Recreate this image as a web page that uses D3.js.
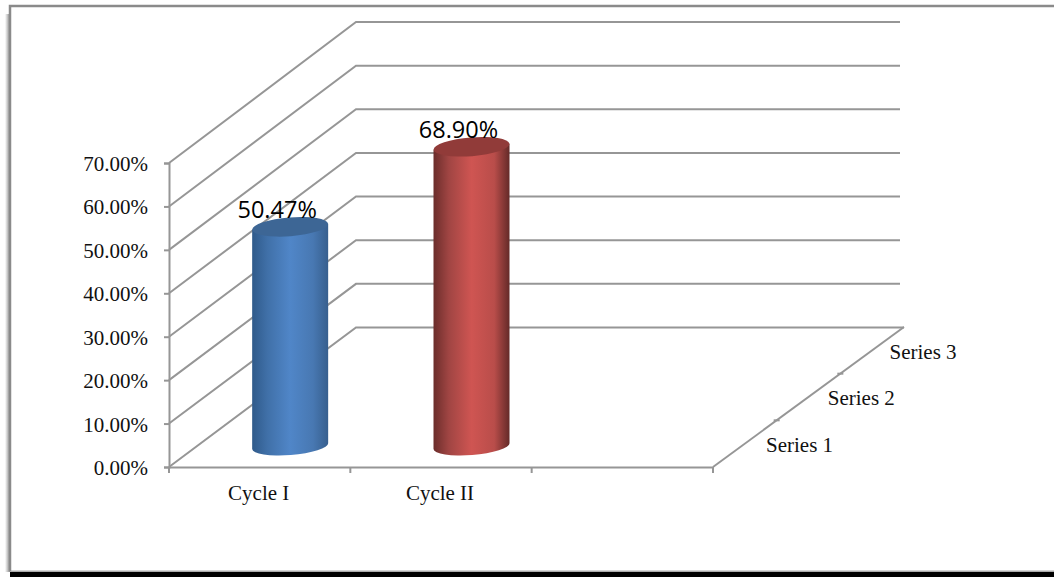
<!DOCTYPE html>
<html>
<head>
<meta charset="utf-8">
<script src="https://cdn.jsdelivr.net/npm/d3@7"></script>
<style>
html, body { margin: 0; padding: 0; background: #fff; overflow: hidden; }
svg { display: block; }
.tick text, .depth { font-family: "Liberation Serif", serif; font-size: 21px; fill: #111; }
.val { font-family: "Open Sans", sans-serif; font-size: 23.5px; fill: #000; text-anchor: middle; }
</style>
</head>
<body>
<svg id="s"></svg>
<script>
var categories = ['Cycle I', 'Cycle II', ''];
var values = [50.47, 68.90];
var valueLabels = ['50.47%', '68.90%'];
var yTicks = [0, 10, 20, 30, 40, 50, 60, 70];
var seriesNames = ['Series 1', 'Series 2', 'Series 3'];
var blueStops = ['#2f5a8a', '#4070a8', '#5086c8', '#4878b2', '#375f8e'];
var redStops = ['#6b2d2b', '#a04543', '#cf5552', '#b94d4a', '#642a28'];
var topColors = ['#3d6695', '#913b39'];

var W = 1054, H = 577;
var grid = '#969696';

var s = d3.select('#s').attr('width', W).attr('height', H);

var x = d3.scaleBand().domain(categories).range([169, 713]).paddingInner(0).paddingOuter(0);
var y = d3.scaleLinear().domain([0, 70]).range([467, 163]);
var yBack = d3.scaleLinear().domain([0, 70]).range([327.5, 22]);
// depth of the fake 3d box, 0 is the front edge and 3 the back
var depth = d3.scaleLinear().domain([0, 3]).range([0, 1]);
var backX = 356;
var floorR = {dx: 191, dy: -140};
var barShift = {dx: 30.5, dy: -21};

var defs = s.append('defs');
var shadow = defs.append('linearGradient').attr('id', 'shadow');
shadow.append('stop').attr('offset', '0%').attr('stop-color', '#fff');
shadow.append('stop').attr('offset', '100%').attr('stop-color', '#8a8a8a');

[blueStops, redStops].forEach(function(stops, i) {
  var g = defs.append('linearGradient').attr('id', 'cyl' + i);
  [0, 0.2, 0.5, 0.8, 1].forEach(function(o, j) {
    g.append('stop').attr('offset', o * 100 + '%').attr('stop-color', stops[j]);
  });
});

// slide frame
s.append('rect').attr('x', 5).attr('y', 14).attr('width', 5).attr('height', 558).attr('fill', 'url(#shadow)');
s.append('rect').attr('x', 10).attr('y', 572).attr('width', W - 10).attr('height', 5).attr('fill', '#000');
s.append('rect').attr('x', 10).attr('y', 570.5).attr('width', W - 10).attr('height', 1.5).attr('fill', '#aaa');
s.append('path').attr('d', 'M' + W + ',6 L10,6 L10,571').attr('fill', 'none').attr('stroke', '#8a8a8a').attr('stroke-width', 2.5);

// walls
s.append('g').selectAll('path').data(yTicks).enter().append('path')
  .attr('fill', 'none').attr('stroke', grid).attr('stroke-width', 2)
  .attr('d', function(d) {
    return 'M' + x.range()[0] + ',' + y(d) + ' L' + backX + ',' + yBack(d) + ' L' + (d == 0 ? 904 : 900) + ',' + yBack(d);
  });

// floor
var xr = x.range()[1];
s.append('path').attr('fill', 'none').attr('stroke', grid).attr('stroke-width', 2)
  .attr('d', 'M' + xr + ',' + y(0) + ' L' + (xr + floorR.dx) + ',' + (y(0) + floorR.dy));

var yAxis = d3.axisLeft(y).tickValues(yTicks).tickSize(5).tickPadding(16)
  .tickFormat(function(d) { return d.toFixed(2) + '%'; });
var gy = s.append('g').attr('transform', 'translate(169,0)').call(yAxis);
gy.selectAll('.tick text').attr('dy', '0.36em');

var xAxis = d3.axisBottom(x).tickSize(0).tickPadding(18);
var gx = s.append('g').attr('transform', 'translate(0,' + y(0) + ')').call(xAxis);
gx.selectAll('.tick text').attr('dx', -1);

s.selectAll('.domain').attr('stroke', grid).attr('stroke-width', 2);
s.selectAll('.tick line').attr('stroke', grid).attr('stroke-width', 2);

// category ticks sit on the band edges
s.append('g').selectAll('line').data(d3.range(categories.length + 1)).enter().append('line')
  .attr('x1', function(i) { return x.range()[0] + i * x.step(); })
  .attr('x2', function(i) { return x.range()[0] + i * x.step(); })
  .attr('y1', y(0)).attr('y2', y(0) + 6)
  .attr('stroke', grid).attr('stroke-width', 2);

// depth axis ticks and labels
s.append('g').selectAll('line').data([1, 2]).enter().append('line')
  .attr('x1', function(d) { return xr + depth(d) * floorR.dx - 3; })
  .attr('x2', function(d) { return xr + depth(d) * floorR.dx + 3; })
  .attr('y1', function(d) { return y(0) + depth(d) * floorR.dy; })
  .attr('y2', function(d) { return y(0) + depth(d) * floorR.dy; })
  .attr('stroke', grid).attr('stroke-width', 2);

s.append('g').selectAll('text').data(seriesNames).enter().append('text')
  .attr('class', 'depth')
  .attr('x', function(d, i) { return xr + 53 + depth(i) * floorR.dx * 0.97; })
  .attr('y', function(d, i) { return y(0) - 15 + depth(i) * floorR.dy; })
  .text(function(d) { return d; });

// cylinders
var rx = 38, ry = 9, tilt = -4.5;
var ty = ry + 0.4;

var bars = s.append('g').selectAll('g').data(values).enter().append('g');

bars.append('path')
  .attr('fill', function(d, i) { return 'url(#cyl' + i + ')'; })
  .attr('d', function(d, i) {
    var cx = x(categories[i]) + x.bandwidth() / 2 + barShift.dx;
    var yb = y(0) + barShift.dy, yt = y(d) + barShift.dy;
    var off = rx * Math.sin(tilt * Math.PI / 180);
    return 'M' + (cx - rx) + ',' + (yt - off) +
      ' L' + (cx - rx) + ',' + (yb - off) +
      ' A' + rx + ',' + ry + ' ' + tilt + ' 0 0 ' + (cx + rx) + ',' + (yb + off) +
      ' L' + (cx + rx) + ',' + (yt + off) + ' Z';
  });

bars.append('ellipse')
  .attr('rx', rx).attr('ry', ty)
  .attr('fill', function(d, i) { return topColors[i]; })
  .attr('transform', function(d, i) {
    var cx = x(categories[i]) + x.bandwidth() / 2 + barShift.dx;
    return 'translate(' + cx + ',' + (y(d) + barShift.dy) + ') rotate(' + tilt + ')';
  });

bars.append('text')
  .attr('class', 'val')
  .attr('x', function(d, i) { return x(categories[i]) + x.bandwidth() / 2 + 17.5; })
  .attr('y', function(d) { return y(d) + barShift.dy - 9; })
  .text(function(d, i) { return valueLabels[i]; });
</script>
</body>
</html>
